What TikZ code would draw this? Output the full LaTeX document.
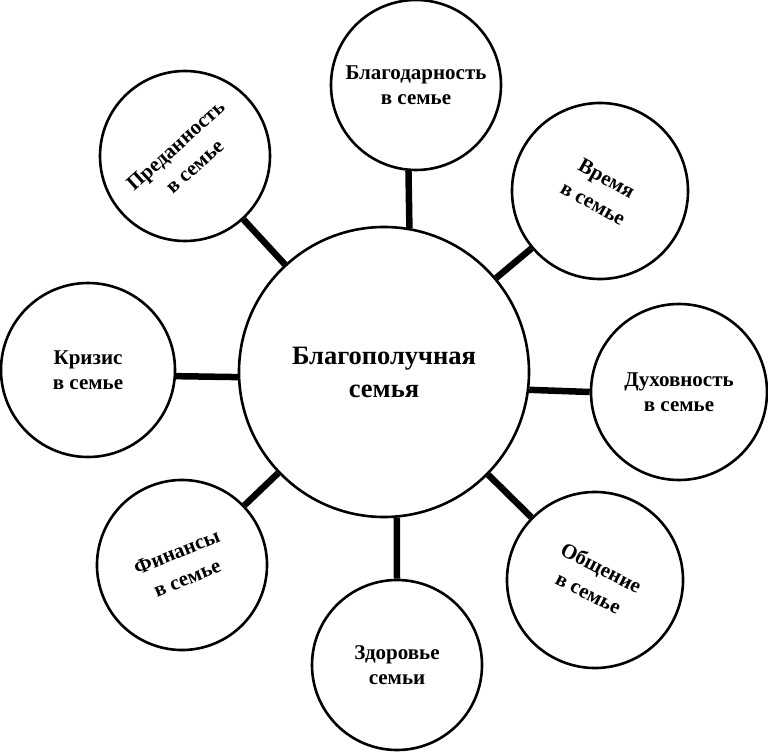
\documentclass[tikz,border=0pt]{standalone}
\usepackage{fontspec}
\setmainfont{Liberation Serif}
\usepackage{tikz}

\tikzset{
  hubcircle/.style={circle, draw, line width=2.6pt, inner sep=0pt, minimum size=290pt,
                    align=center, font=\fontsize{26.5}{33}\selectfont\bfseries},
  satellite/.style={circle, draw, line width=2.6pt, inner sep=0pt, minimum size=170pt,
                    align=center, font=\fontsize{21}{25}\selectfont\bfseries},
  tilted/.style={satellite, rotate=#1, font=\fontsize{21}{28}\selectfont\bfseries},
  stem/.style={line width=6.5pt}
}

\begin{document}
\begin{tikzpicture}[x=1pt, y=-1pt]
        \useasboundingbox (0,0) rectangle (768,754);                 %
        \node [hubcircle] (hub) at (384,372) {Благополучная\\семья};  %

        \node [satellite] (blag) at (416,85)  {Благодарность\\в семье};           %top
        \node [tilted=42]  (pred) at (185,156) {Преданность\\в семье};            %
        \node [tilted=-29, minimum size=176pt] (vrem) at (600,191) {Время\\в семье}; %
        \node [satellite, minimum size=176pt] (duh)  at (679,392) {Духовность\\в семье};     %right
        \node [tilted=-27, minimum size=176pt] (obsh) at (595,580) {Общение\\в семье}; %
        \node [satellite] (zdor) at (397,665) {Здоровье\\семьи};                  %bottom
        \node [tilted=22]  (fin)  at (182,565) {Финансы\\в семье};                %
        \node [satellite, minimum size=174pt] (kriz) at (88,370)  {Кризис\\в семье};         %left

        \draw [stem] (hub.80)  -- (blag.265);                        %
        \draw [stem] (hub)     -- (pred);                            %
        \draw [stem] (hub)     -- (vrem);                            %
        \draw [stem] (hub.-7)  -- (duh.180);                         %
        \draw [stem] (hub)     -- (obsh);                            %
        \draw [stem] (hub.-85) -- (zdor.90);                         %
        \draw [stem] (hub)     -- (fin);                             %
        \draw [stem] (hub.182) -- (kriz.-4);                         %
\end{tikzpicture}
\end{document}
